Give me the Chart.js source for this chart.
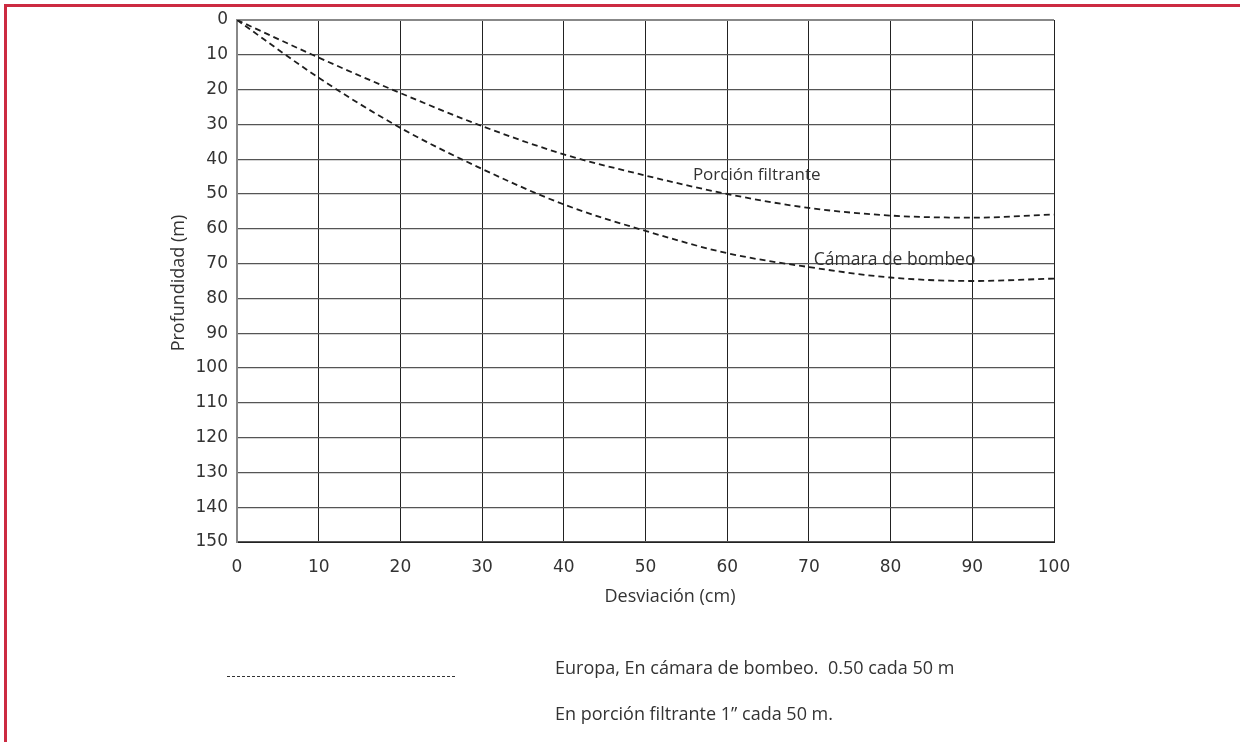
<!DOCTYPE html>
<html>
<head>
<meta charset="utf-8">
<script src="https://cdn.jsdelivr.net/npm/chart.js@4.4.1/dist/chart.umd.min.js"></script>
<style>
  html, body { margin: 0; padding: 0; background: #fff; }
  #wrap { position: relative; width: 1240px; height: 742px; overflow: hidden; background: #fff; }
  #frameTop { position: absolute; left: 4px; top: 4px; width: 1236px; height: 3px; background: #cc2a41; }
  #frameLeft { position: absolute; left: 4px; top: 4px; width: 3px; height: 738px; background: #cc2a41; }
  #chart { position: absolute; left: 0; top: 0; }
  .note { position: absolute; font-family: "Open Sans", sans-serif; font-size: 18px; color: #333; white-space: pre; }
  #dots { position: absolute; left: 227px; top: 676px; width: 228px; height: 0; border-top: 1.6px dashed #333; }
</style>
</head>
<body>
<div id="wrap">
  <canvas id="chart" width="1240" height="742"></canvas>
  <div id="frameTop"></div>
  <div id="frameLeft"></div>
  <div id="dots"></div>
  <div class="note" style="left:555px; top:655px;">Europa, En cámara de bombeo.  0.50 cada 50 m</div>
  <div class="note" style="left:555px; top:701px;">En porción filtrante 1” cada 50 m.</div>
</div>
<script>
// Deviation (cm) along the x axis
const desviacion = [0, 10, 20, 30, 40, 50, 60, 70, 80, 90, 100];
// Depth (m) reached by each curve at the deviations above
const porcionFiltrante = [0, 10.8, 21, 30.5, 38.6, 44.7, 50, 54, 56.2, 56.8, 55.9];
const camaraBombeo = [0, 16.6, 31, 42.8, 53, 60.6, 67, 71, 74, 75, 74.3];
// Tick values
const xTicks = [0, 10, 20, 30, 40, 50, 60, 70, 80, 90, 100];
const yTicks = [0, 10, 20, 30, 40, 50, 60, 70, 80, 90, 100, 110, 120, 130, 140, 150];

// Curve captions and axis titles
const curveLabels = [
  { text: 'Porción filtrante', x: 55.8, y: 44.6, size: 17 },
  { text: 'Cámara de bombeo', x: 70.6, y: 68.9, size: 17.5 }
];
const xTitle = 'Desviación (cm)';
const yTitle = 'Profundidad (m)';

const toPoints = (xs, ys) => xs.map((x, i) => ({ x: x, y: ys[i] }));

const lineStyle = {
  borderColor: '#1e1e1e',
  borderWidth: 1.8,
  borderDash: [6, 4],
  pointRadius: 0,
  fill: false,
  cubicInterpolationMode: 'monotone'
};

const annotations = {
  id: 'annotations',
  afterDatasetsDraw(chart) {
    const { ctx, chartArea, scales } = chart;
    const xs = scales.x, ys = scales.y;
    ctx.save();
    ctx.fillStyle = '#333';
    ctx.textBaseline = 'middle';
    ctx.textAlign = 'left';
    curveLabels.forEach(l => {
      ctx.font = l.size + 'px "Open Sans", sans-serif';
      ctx.fillText(l.text, xs.getPixelForValue(l.x), ys.getPixelForValue(l.y));
    });
    // axis titles
    ctx.font = '18px "Open Sans", sans-serif';
    ctx.textAlign = 'center';
    ctx.fillText(xTitle, xs.getPixelForValue(53), chartArea.bottom + 55);
    ctx.translate(chartArea.left - 58, (chartArea.top + chartArea.bottom) / 2 + 2);
    ctx.rotate(-Math.PI / 2);
    ctx.fillText(yTitle, 0, 0);
    ctx.restore();
  }
};

const tickFont = { family: '"DejaVu Sans", sans-serif', size: 17 };

new Chart(document.getElementById('chart'), {
  type: 'line',
  data: {
    datasets: [
      Object.assign({ label: 'Porción filtrante', data: toPoints(desviacion, porcionFiltrante) }, lineStyle),
      Object.assign({ label: 'Cámara de bombeo', data: toPoints(desviacion, camaraBombeo) }, lineStyle)
    ]
  },
  options: {
    responsive: false,
    animation: false,
    layout: { padding: { top: 20, right: 186, bottom: 0, left: 0 } },
    plugins: { legend: { display: false }, tooltip: { enabled: false } },
    scales: {
      x: {
        type: 'linear',
        min: 0, max: 100,
        afterFit(scale) { scale.height = 200; },
        afterBuildTicks(scale) { scale.ticks = xTicks.map(v => ({ value: v })); },
        ticks: { color: '#333', font: tickFont, padding: 15, maxRotation: 0 },
        grid: {
          drawTicks: false,
          color: c => (c.tick && c.tick.value === 0) ? '#888' : '#222',
          lineWidth: c => (c.tick && c.tick.value === 0) ? 2 : 1
        },
        border: { color: '#222', width: 1 }
      },
      y: {
        type: 'linear',
        reverse: true,
        min: 0, max: 150,
        afterFit(scale) { scale.width = 237; },
        afterBuildTicks(scale) { scale.ticks = yTicks.map(v => ({ value: v })); },
        ticks: { color: '#333', font: tickFont, padding: 9 },
        grid: {
          drawTicks: false,
          color: c => (c.tick && c.tick.value === 0) ? '#888' : '#555',
          lineWidth: c => (c.tick && c.tick.value === 0) ? 2 : 1.2
        },
        border: { color: '#888', width: 2 }
      }
    }
  },
  plugins: [annotations]
});
</script>
</body>
</html>
